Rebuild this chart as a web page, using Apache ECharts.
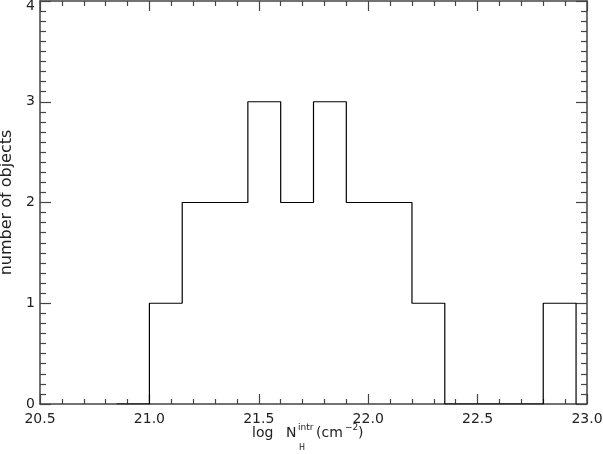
<!DOCTYPE html>
<html>
<head>
<meta charset="utf-8">
<script src="https://cdn.jsdelivr.net/npm/echarts@6/dist/echarts.min.js"></script>
<style>html,body{margin:0;padding:0;background:#fff}#c{width:603px;height:454px}</style>
</head>
<body>
<div id="c"></div>
<script>
// Histogram bin left edges and counts (count applies from edge to next edge)
const binEdges = [20.85, 21.0, 21.15, 21.3, 21.45, 21.6, 21.75, 21.9, 22.05, 22.2, 22.35, 22.5, 22.65, 22.8, 22.95];
const counts   = [0, 1, 2, 2, 3, 2, 3, 2, 2, 1, 0, 0, 0, 1, 0];
const xTicks = ['20.5', '21.0', '21.5', '22.0', '22.5', '23.0'];
const yTicks = ['0', '1', '2', '3', '4'];

const FONT = 'DejaVu Sans';
const AX = '#444';
const TXT = '#222';

const chart = echarts.init(document.getElementById('c'), null, {renderer: 'canvas'});
const data = binEdges.map((e, i) => [e, counts[i]]);

const commonTick = {show: true, inside: true, length: 10, lineStyle: {color: AX, width: 1.2}};
const commonMinor = {show: true, splitNumber: 5, length: 5, lineStyle: {color: AX, width: 1.2}};

chart.setOption({
  animation: false,
  backgroundColor: '#fff',
  grid: {left: 40, right: 16, top: 1, bottom: 50, containLabel: false, outerBoundsMode: 'none'},
  xAxis: [{
    type: 'value', min: 20.5, max: 23.0, interval: 0.5, position: 'bottom',
    axisLine: {show: true, onZero: false, lineStyle: {color: AX, width: 1.5}},
    axisTick: commonTick,
    minorTick: commonMinor,
    splitLine: {show: false},
    axisLabel: {show: true, margin: 8, fontFamily: FONT, fontSize: 14, color: TXT, hideOverlap: false,
      formatter: v => { const s = v.toFixed(1); return xTicks.includes(s) ? s : ''; }}
  }, {
    type: 'value', min: 20.5, max: 23.0, interval: 0.5, position: 'top',
    axisLine: {show: true, onZero: false, lineStyle: {color: AX, width: 1.5}},
    axisTick: commonTick,
    minorTick: commonMinor,
    splitLine: {show: false},
    axisLabel: {show: false}
  }],
  yAxis: [{
    type: 'value', min: 0, max: 4, interval: 1, position: 'left',
    name: 'number of objects', nameLocation: 'middle', nameGap: 21, nameRotate: 90,
    nameTextStyle: {fontFamily: FONT, fontSize: 16, color: TXT},
    axisLine: {show: true, onZero: false, lineStyle: {color: AX, width: 1.5}},
    axisTick: {show: true, inside: true, length: 11, lineStyle: {color: AX, width: 1.2}},
    minorTick: {show: true, splitNumber: 10, length: 6, lineStyle: {color: AX, width: 1.2}},
    splitLine: {show: false},
    axisLabel: {show: true, margin: 5, fontFamily: FONT, fontSize: 14, color: TXT,
      formatter: v => { const s = String(Math.round(v)); return s === '4' ? '{top|4}' : s; },
      rich: {top: {fontFamily: FONT, fontSize: 14, color: TXT, padding: [11, 0, 0, 0]}}}
  }, {
    type: 'value', min: 0, max: 4, interval: 1, position: 'right',
    axisLine: {show: true, onZero: false, lineStyle: {color: AX, width: 1.5}},
    axisTick: {show: true, inside: true, length: 11, lineStyle: {color: AX, width: 1.2}},
    minorTick: {show: true, splitNumber: 10, length: 6, lineStyle: {color: AX, width: 1.2}},
    splitLine: {show: false},
    axisLabel: {show: false}
  }],
  series: [{
    type: 'line', xAxisIndex: 0, yAxisIndex: 0,
    step: 'end', data: data, showSymbol: false, symbol: 'none',
    lineStyle: {color: '#000', width: 1.2}, clip: true
  }],
  graphic: [
    {type: 'text', left: 252, top: 426, style: {text: 'log', font: '14px "DejaVu Sans"', fill: TXT}},
    {type: 'text', left: 286, top: 426, style: {text: 'N', font: '14px "DejaVu Sans"', fill: TXT}},
    {type: 'text', left: 298, top: 423, style: {text: 'intr', font: '9px "DejaVu Sans"', fill: TXT}},
    {type: 'text', left: 299, top: 444, style: {text: 'H', font: '8px "DejaVu Sans"', fill: TXT}},
    {type: 'text', left: 316, top: 426, style: {text: '(cm', font: '14px "DejaVu Sans"', fill: TXT}},
    {type: 'text', left: 345, top: 423, style: {text: '\u22122', font: '9px "DejaVu Sans"', fill: TXT}},
    {type: 'text', left: 358, top: 426, style: {text: ')', font: '14px "DejaVu Sans"', fill: TXT}}
  ]
});
</script>
</body>
</html>
